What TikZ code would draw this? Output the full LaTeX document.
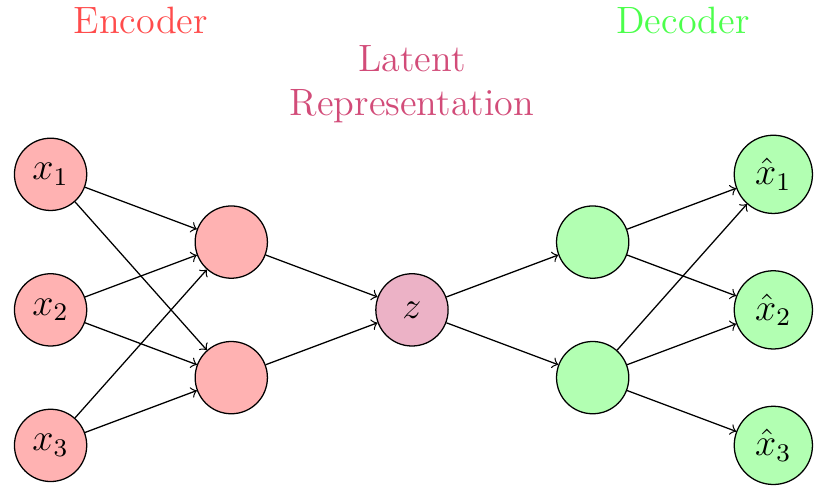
\documentclass[tikz,border=0pt]{standalone}
\usepackage{tikz}
\usetikzlibrary{positioning}

\begin{document}
\begin{tikzpicture}[
    font=\large,
    neuron/.style={
        circle,
        draw,
        minimum size=0.8cm
    },
    encnode/.style={neuron, fill=red!30},
    latnode/.style={neuron, fill=purple!30},
    decnode/.style={neuron, fill=green!30},
    arrow/.style={->}
]

\useasboundingbox (-0.56,1.93) rectangle (8.45,-3.51);

% Input layer
\node[encnode] (x1) at (0,0) {$x_1$};
\node[encnode] (x2) at (0,-1.5) {$x_2$};
\node[encnode] (x3) at (0,-3) {$x_3$};

% Encoder hidden layer
\node[encnode] (h1) at (2,-0.75) {};
\node[encnode] (h2) at (2,-2.25) {};

% Latent code
\node[latnode] (z) at (4,-1.5) {$z$};

% Decoder hidden layer
\node[decnode] (d1) at (6,-0.75) {};
\node[decnode] (d2) at (6,-2.25) {};

% Output layer
\node[decnode] (o1) at (8,0) {$\hat{x}_1$};
\node[decnode] (o2) at (8,-1.5) {$\hat{x}_2$};
\node[decnode] (o3) at (8,-3) {$\hat{x}_3$};

% Encoder connections
\draw[arrow] (x1) -- (h1);
\draw[arrow] (x1) -- (h2);
\draw[arrow] (x2) -- (h1);
\draw[arrow] (x2) -- (h2);
\draw[arrow] (x3) -- (h1);
\draw[arrow] (x3) -- (h2);

\draw[arrow] (h1) -- (z);
\draw[arrow] (h2) -- (z);

% Decoder connections
\draw[arrow] (z) -- (d1);
\draw[arrow] (z) -- (d2);

\draw[arrow] (d1) -- (o1);
\draw[arrow] (d1) -- (o2);
\draw[arrow] (d2) -- (o1);
\draw[arrow] (d2) -- (o2);
\draw[arrow] (d2) -- (o3);

% Labels
\node[text=red!70] (enclabel) at (1,1.7) {Encoder};
\node[text=purple!70, align=center] (latlabel) at (4,1) {Latent\\Representation};
\node[text=green!70] (declabel) at (7,1.7) {Decoder};

\end{tikzpicture}
\end{document}
